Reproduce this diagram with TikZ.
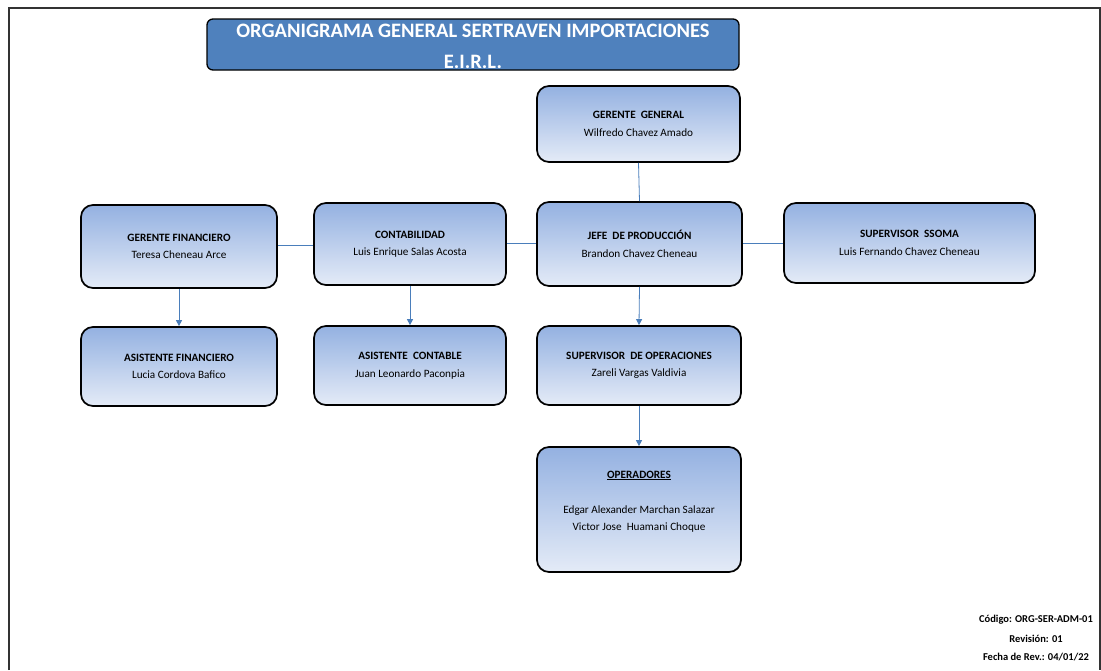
\documentclass[tikz,border=0pt]{standalone}
\usepackage{fontspec}
\setmainfont{Carlito}
\usetikzlibrary{arrows.meta}
\definecolor{linkblue}{RGB}{74,126,187}
\definecolor{titleblue}{RGB}{79,129,189}
\definecolor{boxtop}{RGB}{148,177,225}
\definecolor{boxbot}{RGB}{228,235,247}
\tikzset{
  orgbox/.style={draw=black, line width=1.7pt, rounded corners=12pt,
    top color=boxtop, bottom color=boxbot, align=center,
    font=\fontsize{11.2}{17.5}\selectfont, inner sep=0pt},
  link/.style={draw=linkblue, line width=0.8pt},
  arr/.style={link, -{Triangle[length=6pt,width=6pt]}},
  foot/.style={font=\fontsize{10.5}{12}\selectfont\bfseries, inner sep=0pt},
}
\begin{document}
\begin{tikzpicture}[x=1pt,y=-1pt]
\useasboundingbox (0,0) rectangle (1101,670);
% outer frame
\draw[line width=1.2pt, black!80] (9,670) -- (9,8) -- (1100,8) -- (1100,670);
% title
\node[draw=black, line width=1.3pt, rounded corners=6pt, fill=titleblue,
  minimum width=532pt, minimum height=51pt, inner sep=0pt] (title) at (473,44.5) {};
\node[text=white, font=\fontsize{20.5}{31}\selectfont\bfseries, align=center] (titletext) at (473,46.5)
  {ORGANIGRAMA GENERAL SERTRAVEN IMPORTACIONES\\E.I.R.L.};
% boxes
\node[orgbox, minimum width=203pt, minimum height=76pt] (gg) at (638.5,124)
  {\textbf{GERENTE\ \ GENERAL}\\Wilfredo Chavez Amado};
\node[orgbox, minimum width=196pt, minimum height=83pt] (gf) at (179,246.5)
  {\textbf{GERENTE FINANCIERO}\\Teresa Cheneau Arce};
\node[orgbox, minimum width=192pt, minimum height=82pt] (cont) at (410,244)
  {\textbf{CONTABILIDAD}\\Luis Enrique Salas Acosta};
\node[orgbox, minimum width=205pt, minimum height=84pt] (jp) at (639.5,244)
  {\textbf{JEFE\ \ DE PRODUCCIÓN}\\Brandon Chavez Cheneau};
\node[orgbox, minimum width=251pt, minimum height=80pt] (ssoma) at (909.5,243)
  {\textbf{SUPERVISOR\ \ SSOMA}\\Luis Fernando Chavez Cheneau};
\node[orgbox, minimum width=196pt, minimum height=79pt] (af) at (179,366.5)
  {\textbf{ASISTENTE FINANCIERO}\\Lucia Cordova Bafico};
\node[orgbox, minimum width=192pt, minimum height=79pt] (ac) at (410,365.5)
  {\textbf{ASISTENTE\ \ CONTABLE}\\Juan Leonardo Paconpia};
\node[orgbox, minimum width=204pt, minimum height=79pt] (so) at (639,365.5)
  {\textbf{SUPERVISOR\ \ DE OPERACIONES}\\Zareli Vargas Valdivia};
\node[orgbox, minimum width=204pt, minimum height=125pt] (op) at (639,509.5)
  {\textbf{\underline{OPERADORES}}\\\mbox{}\\Edgar Alexander Marchan Salazar\\Victor Jose\ \ Huamani Choque\\\mbox{}};
% connectors
\draw[link] (gg.south) -- (jp.north);
\draw[link] (gf.east |- 0,245) -- (cont.west |- 0,245);
\draw[link] (cont.east |- 0,243) -- (jp.west |- 0,243);
\draw[link] (jp.east |- 0,243) -- (ssoma.west |- 0,243);
\draw[arr] (gf.south) -- (af.north);
\draw[arr] (cont.south) -- (ac.north);
\draw[arr] (jp.south) -- (so.north);
\draw[arr] (so.south) -- (op.north);
% footer
\node[foot] (code) at (1036,620) {Código: ORG-SER-ADM-01};
\node[foot] (rev) at (1036,639) {Revisión: 01};
\node[foot] (date) at (1036,657) {Fecha de Rev.: 04/01/22};
\end{tikzpicture}
\end{document}
